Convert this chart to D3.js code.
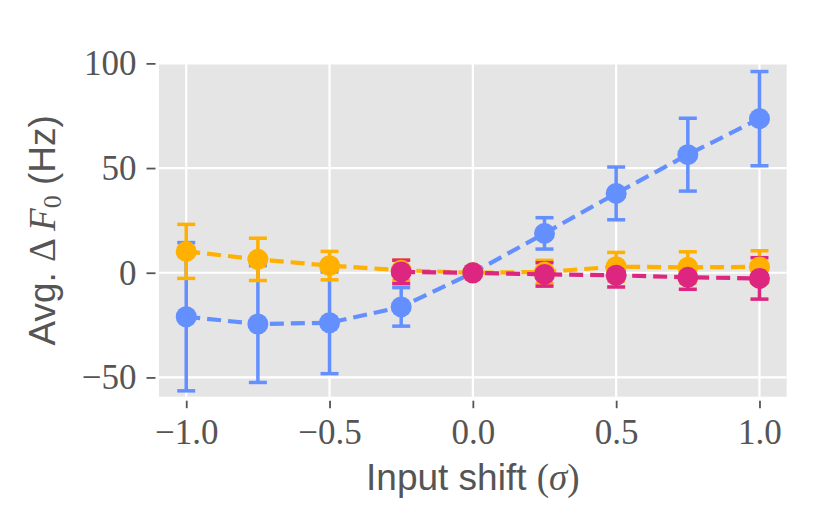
<!DOCTYPE html>
<html>
<head>
<meta charset="utf-8">
<script src="https://cdn.jsdelivr.net/npm/d3@7"></script>
<style>
  body { margin: 0; background: #fff; }
  .tick text { font-family: "Liberation Serif", serif; fill: #555; }
</style>
</head>
<body>
<svg id="chart" width="830" height="516"></svg>
<script>
// -------------------------
// DATA
// -------------------------
const shifts = [-1, -0.75, -0.5, -0.25, 0, 0.25, 0.5, 0.75, 1];

const blueMean = [-21.0, -24.5, -23.9, -16.3, 0, 18.8, 37.9, 56.4, 73.6];
const blueErr  = [35.4, 27.9, 24.3, 9.2, 0, 7.5, 12.6, 17.4, 22.5];

const orangeMean = [10.2, 6.4, 3.4, 1.2, 0, 0.4, 2.9, 2.6, 2.8];
const orangeErr  = [12.9, 10.1, 6.8, 4.8, 0, 5.5, 6.8, 7.4, 7.7];

const pinkShifts = [-0.25, 0, 0.25, 0.5, 0.75, 1];
const pinkMean = [0.4, 0, -0.8, -1.2, -2.2, -2.7];
const pinkErr  = [5.6, 0, 5.6, 5.6, 5.7, 9.9];

const xTicks = [-1, -0.5, 0, 0.5, 1];
const yTicks = [-50, 0, 50, 100];

// -------------------------
// SETUP
// -------------------------
const svg = d3.select("#chart");
const plot = { left: 159, right: 786.7, top: 64, bottom: 396.7 };

const x = d3.scaleLinear().domain([-1.095, 1.095]).range([plot.left, plot.right]);
const y = d3.scaleLinear().domain([-59.2, 99.7]).range([plot.bottom, plot.top]);

const series = [
  { xs: shifts, mean: blueMean, err: blueErr, color: "#648FFF" },
  { xs: shifts, mean: orangeMean, err: orangeErr, color: "#FFB000" },
  { xs: pinkShifts, mean: pinkMean, err: pinkErr, color: "#DC267F" }
].map(s => ({ ...s, pts: s.xs.map((v, i) => ({ x: v, m: s.mean[i], e: s.err[i] })) }));

// background + grid
svg.append("rect")
  .attr("x", plot.left).attr("y", plot.top)
  .attr("width", plot.right - plot.left).attr("height", plot.bottom - plot.top)
  .attr("fill", "#E5E5E5");

const grid = svg.append("g");
grid.selectAll("line.v").data(xTicks).enter().append("line")
  .attr("x1", d => x(d)).attr("x2", d => x(d))
  .attr("y1", plot.top).attr("y2", plot.bottom)
  .attr("stroke", "#fff").attr("stroke-width", 2.2);
grid.selectAll("line.h").data(yTicks).enter().append("line")
  .attr("y1", d => y(d)).attr("y2", d => y(d))
  .attr("x1", plot.left).attr("x2", plot.right)
  .attr("stroke", "#fff").attr("stroke-width", 2.2);

// -------------------------
// AXES
// -------------------------
const xAxis = svg.append("g")
  .attr("transform", `translate(0,${plot.bottom + 4})`)
  .call(d3.axisBottom(x).tickValues(xTicks).tickFormat(d3.format(".1f")).tickSize(7.5).tickPadding(11));
const yAxis = svg.append("g")
  .attr("transform", `translate(${plot.left - 3.5},0)`)
  .call(d3.axisLeft(y).tickValues(yTicks).tickFormat(d3.format("d")).tickSize(9).tickPadding(10));

[xAxis, yAxis].forEach(a => {
  a.select(".domain").remove();
  a.selectAll(".tick line").attr("stroke", "#555").attr("stroke-width", 1.8);
  a.selectAll(".tick text").attr("font-size", 35);
});
yAxis.selectAll(".tick text").attr("dy", "0.33em");

// axis labels
const xl = svg.append("text")
  .attr("x", (plot.left + plot.right) / 2).attr("y", 490)
  .attr("text-anchor", "middle").attr("fill", "#555")
  .attr("font-family", "Liberation Sans, sans-serif").attr("font-size", 37);
xl.append("tspan").text("Input shift ");
xl.append("tspan").attr("font-family", "Liberation Serif, serif").text("(");
xl.append("tspan").attr("font-family", "Liberation Serif, serif").attr("font-style", "italic").text("σ");
xl.append("tspan").attr("font-family", "Liberation Serif, serif").text(")");

const yl = svg.append("text")
  .attr("transform", `translate(55,${(plot.top + plot.bottom) / 2}) rotate(-90)`)
  .attr("text-anchor", "middle").attr("fill", "#555")
  .attr("font-family", "Liberation Sans, sans-serif").attr("font-size", 37);
yl.append("tspan").text("Avg. ");
yl.append("tspan").attr("font-family", "Liberation Serif, serif").text("Δ ");
yl.append("tspan").attr("font-family", "Liberation Serif, serif").attr("font-style", "italic").text("F");
yl.append("tspan").attr("font-family", "Liberation Serif, serif").attr("font-size", 26).attr("dy", 6).text("0");
yl.append("tspan").attr("dy", -6).text(" (Hz)");

// -------------------------
// ERROR BARS (under all lines)
// -------------------------
const capHalf = 9;
series.forEach(s => {
  const g = svg.append("g").attr("stroke", s.color).attr("stroke-width", 3.5);
  g.selectAll("line.bar").data(s.pts).enter().append("line")
    .attr("x1", d => x(d.x)).attr("x2", d => x(d.x))
    .attr("y1", d => y(d.m - d.e)).attr("y2", d => y(d.m + d.e));
  ["-", "+"].forEach(side => {
    g.selectAll("line.cap" + (side === "-" ? "lo" : "hi")).data(s.pts).enter().append("line")
      .attr("x1", d => x(d.x) - capHalf).attr("x2", d => x(d.x) + capHalf)
      .attr("y1", d => y(side === "-" ? d.m - d.e : d.m + d.e))
      .attr("y2", d => y(side === "-" ? d.m - d.e : d.m + d.e));
  });
});

// -------------------------
// LINES + MARKERS
// -------------------------
const line = d3.line().x(d => x(d.x)).y(d => y(d.m));
series.forEach(s => {
  svg.append("path").datum(s.pts)
    .attr("d", line).attr("fill", "none")
    .attr("stroke", s.color).attr("stroke-width", 4.2)
    .attr("stroke-dasharray", "14,7");
  svg.append("g").selectAll("circle").data(s.pts).enter().append("circle")
    .attr("cx", d => x(d.x)).attr("cy", d => y(d.m))
    .attr("r", 10.5).attr("fill", s.color);
});
</script>
</body>
</html>
